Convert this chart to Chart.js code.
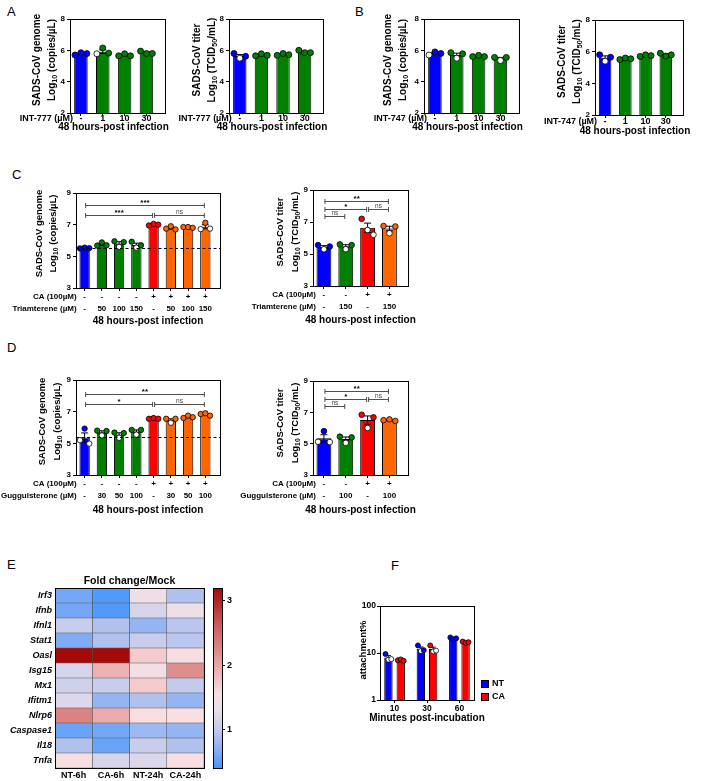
<!DOCTYPE html>
<html><head><meta charset="utf-8">
<script src="https://cdn.jsdelivr.net/npm/chart.js@4.4.1/dist/chart.umd.min.js"></script>
<style>
html,body{margin:0;padding:0;background:#fff}
body{width:701px;height:781px;position:relative;overflow:hidden;font-family:"Liberation Sans",Arial,sans-serif}
canvas{position:absolute}
.lt{position:absolute;font-size:13px;line-height:13px;color:#000}
</style></head><body>
<div class="lt" style="left:7px;top:5px">A</div>
<div class="lt" style="left:355px;top:5px">B</div>
<div class="lt" style="left:12px;top:168px">C</div>
<div class="lt" style="left:7px;top:341px">D</div>
<div class="lt" style="left:7px;top:558px">E</div>
<div class="lt" style="left:391px;top:559px">F</div>
<canvas id="a1"></canvas><canvas id="a2"></canvas><canvas id="b1"></canvas><canvas id="b2"></canvas>
<canvas id="c1"></canvas><canvas id="c2"></canvas><canvas id="d1"></canvas><canvas id="d2"></canvas>
<canvas id="hm"></canvas><canvas id="cb"></canvas><canvas id="fch"></canvas>
<script>
// ---------------- DATA ----------------
const catA = ['-', '1', '10', '30'];
const a1Genome = [[5.70,5.85,5.79],[5.78,6.15,5.82],[5.65,5.78,5.65],[5.95,5.80,5.80]];
const a2Titer  = [[5.80,5.50,5.62],[5.65,5.78,5.68],[5.68,5.80,5.72],[6.00,5.85,5.85]];
const b1Genome = [[5.70,5.90,5.80],[5.85,5.50,5.78],[5.60,5.68,5.60],[5.55,5.35,5.55]];
const b2Titer  = [[5.80,5.40,5.65],[5.50,5.60,5.55],[5.70,5.80,5.75],[5.90,5.72,5.80]];

const caRow8 = ['-','-','-','-','+','+','+','+'];
const triRow8 = ['-','50','100','150','-','50','100','150'];
const caRow4 = ['-','-','+','+'];
const triRow4 = ['-','150','-','150'];
const c1Genome = [[5.50,5.55,5.52],[5.68,5.88,5.70],[5.95,5.60,5.90],[5.92,5.55,5.70],
                  [6.95,7.05,7.00],[6.75,6.90,6.70],[6.85,6.85,6.80],[6.72,7.12,6.75]];
const c2Titer  = [[5.56,5.30,5.47],[5.60,5.30,5.56],[7.20,6.50,6.20],[6.75,6.30,6.72]];
const c1Dashed = 5.53;
const c1Brackets = [[0,7,8.26,'***'],[0,4,7.63,'***'],[4,7,7.63,'ns']];
const c2Brackets = [[0,3,8.31,'**'],[0,2,7.81,'*'],[2,3,7.81,'ns'],[0,1,7.37,'ns']];

const gugRow8 = ['-','30','50','100','-','30','50','100'];
const gugRow4 = ['-','100','-','100'];
const d1Genome = [[5.20,5.93,4.98],[5.80,5.50,5.78],[5.68,5.35,5.65],[5.85,5.55,5.85],
                  [6.55,6.60,6.55],[6.55,6.30,6.55],[6.60,6.75,6.65],[6.85,6.90,6.75]];
const d2Titer  = [[5.12,5.80,5.10],[5.45,5.05,5.40],[6.85,6.00,6.68],[6.50,6.55,6.45]];
const d1Dashed = 5.40;
const d1Brackets = [[0,7,8.09,'**'],[0,4,7.50,'*'],[4,7,7.50,'ns']];
const d2Brackets = [[0,3,8.36,'**'],[0,2,7.83,'*'],[2,3,7.83,'ns'],[0,1,7.39,'ns']];

const genes = ['Irf3','Ifnb','Ifnl1','Stat1','Oasl','Isg15','Mx1','Ifitm1','Nlrp6','Caspase1','Il18','Tnfa'];
const heatCols = ['NT-6h','CA-6h','NT-24h','CA-24h'];
const heatNT6  = [0.60,0.60,1.05,0.65,3.30,1.15,1.10,1.20,2.30,0.55,0.90,1.50];
const heatCA6  = [0.45,0.45,0.90,0.90,3.30,1.90,1.05,0.75,1.95,0.60,0.55,1.15];
const heatNT24 = [1.40,1.15,0.75,1.05,1.70,1.45,1.70,0.90,1.55,0.80,1.05,1.20];
const heatCA24 = [0.90,1.40,0.95,0.95,1.55,2.20,1.00,0.75,1.55,0.75,0.90,1.55];
const colorbarRange = [0.4, 3.2];
const colorbarTicks = [1, 2, 3];

const fMinutes = ['10','30','60'];
const fNT = [[9.5,7.2,7.4],[14.5,11.0,11.5],[21.5,19.5,20.5]];
const fCA = [[7.0,7.3,6.8],[14.5,10.8,11.2],[17.5,16.5,17.0]];

// ---------------- STYLE / HELPERS ----------------
const FONT = '"Liberation Sans", Arial, Helvetica, sans-serif';
Chart.defaults.font.family = FONT;
Chart.defaults.color = '#000';
Chart.defaults.animation = false;
Chart.defaults.responsive = false;
Chart.defaults.events = [];
Chart.defaults.plugins.legend.display = false;
Chart.defaults.plugins.tooltip.enabled = false;

const BLUE='#0000ff', GREEN='#008000', RED='#ff0000', ORANGE='#ff6600';

function mean(a){return a.reduce((s,v)=>s+v,0)/a.length;}
function sem(a){const m=mean(a);return Math.sqrt(a.reduce((s,v)=>s+(v-m)*(v-m),0)/(a.length-1))/Math.sqrt(a.length);}
function setupCanvas(id,left,top,w,h){const c=document.getElementById(id);c.width=w;c.height=h;c.style.left=left+'px';c.style.top=top+'px';return c;}

function richSegs(s){const out=[];const re=/_\{([^}]*)\}/g;let last=0,m;while((m=re.exec(s))){if(m.index>last)out.push({t:s.slice(last,m.index),sub:false});out.push({t:m[1],sub:true});last=re.lastIndex;}if(last<s.length)out.push({t:s.slice(last),sub:false});return out;}
function drawRich(ctx,s,x,y,size,align,style){
  const segs=richSegs(s);const st=style||'bold';
  const f=sub=>`${st} ${sub?size*0.72:size}px ${FONT}`;
  let w=0;segs.forEach(g=>{ctx.font=f(g.sub);g.w=ctx.measureText(g.t).width;w+=g.w;});
  let cx=align==='center'?x-w/2:align==='right'?x-w:x;
  ctx.textAlign='left';ctx.textBaseline='middle';
  segs.forEach(g=>{ctx.font=f(g.sub);ctx.fillText(g.t,cx,y+(g.sub?size*0.32:0));cx+=g.w;});
}
function drawRotTitle(ctx,lines,xs,yc,size){
  lines.forEach((ln,k)=>{ctx.save();ctx.translate(xs[k],yc);ctx.rotate(-Math.PI/2);ctx.fillStyle='#000';drawRich(ctx,ln,0,0,size,'center');ctx.restore();});
}
function frame(ctx,a){ctx.save();ctx.strokeStyle='#000';ctx.lineWidth=1;ctx.strokeRect(Math.round(a.left)+0.5,Math.round(a.top)+0.5,Math.round(a.right-a.left),Math.round(a.bottom-a.top));ctx.restore();}
function errBar(ctx,px,yc,ylo,yhi,cap){
  ctx.beginPath();ctx.moveTo(px,ylo);ctx.lineTo(px,yhi);
  ctx.moveTo(px-cap,yhi);ctx.lineTo(px+cap,yhi);
  ctx.moveTo(px-cap,ylo);ctx.lineTo(px+cap,ylo);ctx.stroke();
}

// ---------------- BAR PANELS A-D ----------------
function barPanel(o){
  const [L,T,R,B]=o.box; const ct=T-12, cr=R+8, cw=cr-o.cl, ch=o.cb-ct;
  const cv=setupCanvas(o.id,o.cl,ct,cw,ch);
  const n=o.reps.length, means=o.reps.map(mean), sems=o.reps.map(sem);
  const jit=[-0.27,0,0.27];
  const pts=[];o.reps.forEach((r,i)=>r.forEach((v,j)=>pts.push({x:i+jit[j],y:v,i})));
  const X=x=>x-o.cl, Y=y=>y-ct;
  new Chart(cv,{
    data:{datasets:[
      {type:'bar',data:means.map((m,i)=>({x:i,y:m})),backgroundColor:o.colors,borderColor:'#000',borderWidth:1,
       barPercentage:o.barPct,categoryPercentage:1,order:2},
      {type:'scatter',data:pts,pointRadius:o.dotR,pointHoverRadius:o.dotR,pointBorderColor:'#000',pointBorderWidth:0.8,
       pointBackgroundColor:c=>{const p=c.raw;if(!p)return '#fff';return p.y<means[p.i]-0.1?'#fff':o.colors[p.i];},order:1}
    ]},
    options:{
      layout:{padding:{top:12,right:8,left:0,bottom:0}},
      scales:{
        x:{type:'linear',min:-0.5,max:n-0.15,offset:false,
           grid:{offset:false,drawOnChartArea:false,tickLength:3,color:'#000',lineWidth:1},
           border:{color:'#000',width:1},ticks:{display:false},
           afterBuildTicks:s=>{s.ticks=o.reps.map((_,i)=>({value:i}));},
           afterFit:s=>{s.height=o.cb-B;}},
        y:{min:o.yMin,max:o.yMax,ticks:{stepSize:o.yStep,font:{size:8,weight:'bold'},padding:2,color:'#000'},
           grid:{drawOnChartArea:false,tickLength:3,color:'#000'},border:{color:'#000',width:1},
           afterFit:s=>{s.width=L-o.cl;}}
      }
    },
    plugins:[{id:'deco',
      afterDatasetDraw(chart,args){
        if(args.index!==0)return;
        const ctx=chart.ctx,xs=chart.scales.x,ys=chart.scales.y;
        ctx.save();ctx.strokeStyle='#000';ctx.lineWidth=1;
        means.forEach((m,i)=>{const px=xs.getPixelForValue(i);errBar(ctx,px,ys.getPixelForValue(m),ys.getPixelForValue(m-sems[i]),ys.getPixelForValue(m+sems[i]),3.5);});
        ctx.restore();
      },
      afterDatasetsDraw(chart){
        const ctx=chart.ctx,xs=chart.scales.x,ys=chart.scales.y,a=chart.chartArea;
        ctx.save();
        if(o.dashed!==undefined){
          ctx.setLineDash([3,2.5]);ctx.strokeStyle='#000';ctx.lineWidth=1;
          const py=Math.round(ys.getPixelForValue(o.dashed))+0.5;
          ctx.beginPath();ctx.moveTo(a.left,py);ctx.lineTo(a.right,py);ctx.stroke();ctx.setLineDash([]);
        }
        (o.brackets||[]).forEach(b=>{
          const x1=xs.getPixelForValue(b[0])+1,x2=xs.getPixelForValue(b[1])-1,py=Math.round(ys.getPixelForValue(b[2]))+0.5;
          ctx.strokeStyle='#222';ctx.lineWidth=0.8;ctx.beginPath();
          ctx.moveTo(x1,py);ctx.lineTo(x2,py);ctx.moveTo(x1,py-2.5);ctx.lineTo(x1,py+2.5);ctx.moveTo(x2,py-2.5);ctx.lineTo(x2,py+2.5);ctx.stroke();
          const ns=b[3]==='ns';
          ctx.fillStyle=ns?'#444':'#000';ctx.font=(ns?'':'bold ')+(ns?6.5:8)+'px '+FONT;
          ctx.textAlign='center';ctx.textBaseline='middle';
          ctx.fillText(b[3],(x1+x2)/2,py-(ns?3.5:3));
        });
        frame(ctx,a);
        ctx.restore();
      },
      afterDraw(chart){
        const ctx=chart.ctx,xs=chart.scales.x;
        ctx.save();ctx.fillStyle='#000';
        drawRotTitle(ctx,o.title,o.titleX.map(X),Y((T+B)/2+o.titleDy),o.titleSize);
        o.rows.forEach(r=>{
          ctx.font=`bold ${o.rowSize}px ${FONT}`;ctx.textBaseline='middle';
          ctx.textAlign='right';ctx.fillText(r.title,xs.getPixelForValue(0)-8,Y(r.y));
          ctx.textAlign='center';r.labels.forEach((t,i)=>ctx.fillText(t,xs.getPixelForValue(i),Y(r.y)));
        });
        ctx.font=`bold 10px ${FONT}`;ctx.textAlign='center';ctx.textBaseline='middle';
        ctx.fillText(o.xTitle,(chart.chartArea.left+chart.chartArea.right)/2+o.xTitleDx,Y(o.xTitleY));
        ctx.restore();
      }
    }]
  });
}

const genomeTitle=['SADS-CoV genome','Log_{10} (copies/µL)'];
const titerTitle=['SADS-CoV titer','Log_{10} (TCID_{50}/mL)'];
const xT='48 hours-post infection';
const colA=[BLUE,GREEN,GREEN,GREEN];

barPanel({id:'a1',box:[70,19,165,113],cl:0,cb:134,reps:a1Genome,colors:colA,yMin:2,yMax:8,yStep:2,
  title:genomeTitle,titleX:[37,52],titleDy:-6,titleSize:10,rows:[{title:'INT-777 (µM)',labels:catA,y:118.5}],rowSize:9,
  xTitle:xT,xTitleY:127,xTitleDx:-4,barPct:0.62,dotR:3});
barPanel({id:'a2',box:[229,19,323,113],cl:150,cb:134,reps:a2Titer,colors:colA,yMin:2,yMax:8,yStep:2,
  title:titerTitle,titleX:[197,212],titleDy:-6,titleSize:10,rows:[{title:'INT-777 (µM)',labels:catA,y:118.5}],rowSize:9,
  xTitle:xT,xTitleY:127.5,xTitleDx:-4,barPct:0.62,dotR:3});
barPanel({id:'b1',box:[424,19,519,113],cl:350,cb:134,reps:b1Genome,colors:colA,yMin:2,yMax:8,yStep:2,
  title:genomeTitle,titleX:[388,403],titleDy:-6,titleSize:10,rows:[{title:'INT-747 (µM)',labels:catA,y:118.5}],rowSize:9,
  xTitle:xT,xTitleY:127,xTitleDx:-4,barPct:0.62,dotR:3});
barPanel({id:'b2',box:[595,20,683,115],cl:525,cb:138,reps:b2Titer,colors:colA,yMin:2,yMax:8,yStep:2,
  title:titerTitle,titleX:[562,577],titleDy:-6,titleSize:10,rows:[{title:'INT-747 (µM)',labels:catA,y:122}],rowSize:9,
  xTitle:xT,xTitleY:131.5,xTitleDx:-4,barPct:0.62,dotR:3});

const colC8=[BLUE,GREEN,GREEN,GREEN,RED,ORANGE,ORANGE,ORANGE];
const colC4=[BLUE,GREEN,RED,ORANGE];
barPanel({id:'c1',box:[76,193,220,288],cl:0,cb:330,reps:c1Genome,colors:colC8,yMin:3,yMax:9,yStep:2,
  title:genomeTitle,titleX:[39,53],titleDy:-7,titleSize:9.5,
  rows:[{title:'CA (100µM)',labels:caRow8,y:297},{title:'Triamterene (µM)',labels:triRow8,y:309}],rowSize:8,
  xTitle:xT,xTitleY:321.5,xTitleDx:0,barPct:0.6,dotR:2.7,dashed:c1Dashed,brackets:c1Brackets});
barPanel({id:'c2',box:[313,190,408,286],cl:200,cb:330,reps:c2Titer,colors:colC4,yMin:3,yMax:9,yStep:2,
  title:titerTitle,titleX:[280,295],titleDy:-6,titleSize:9.5,
  rows:[{title:'CA (100µM)',labels:caRow4,y:295},{title:'Triamterene (µM)',labels:triRow4,y:307}],rowSize:8,
  xTitle:xT,xTitleY:320,xTitleDx:0,barPct:0.68,dotR:2.8,brackets:c2Brackets});
barPanel({id:'d1',box:[76,380,220,475],cl:0,cb:518,reps:d1Genome,colors:colC8,yMin:3,yMax:9,yStep:2,
  title:genomeTitle,titleX:[42,57],titleDy:-6,titleSize:9.5,
  rows:[{title:'CA (100µM)',labels:caRow8,y:484},{title:'Guggulsterone (µM)',labels:gugRow8,y:496}],rowSize:8,
  xTitle:xT,xTitleY:510,xTitleDx:0,barPct:0.6,dotR:2.7,dashed:d1Dashed,brackets:d1Brackets});
barPanel({id:'d2',box:[313,381,408,475],cl:200,cb:518,reps:d2Titer,colors:colC4,yMin:3,yMax:9,yStep:2,
  title:titerTitle,titleX:[280,295],titleDy:-5,titleSize:9.5,
  rows:[{title:'CA (100µM)',labels:caRow4,y:484},{title:'Guggulsterone (µM)',labels:gugRow4,y:496}],rowSize:8,
  xTitle:xT,xTitleY:510,xTitleDx:0,barPct:0.68,dotR:2.8,brackets:d2Brackets});

// ---------------- HEATMAP E ----------------
const cmapStops=[[0.4,[70,150,250]],[0.7,[138,176,243]],[1.0,[195,202,236]],[1.3,[232,222,234]],
                 [1.55,[248,222,224]],[2.0,[232,165,165]],[2.6,[205,95,95]],[3.2,[165,10,10]]];
function colorFor(v){
  if(v<=cmapStops[0][0])return `rgb(${cmapStops[0][1]})`;
  for(let k=1;k<cmapStops.length;k++){const [v1,c1]=cmapStops[k];const [v0,c0]=cmapStops[k-1];
    if(v<=v1){const t=(v-v0)/(v1-v0);return `rgb(${c0.map((c,j)=>Math.round(c+(c1[j]-c)*t)).join(',')})`;}}
  return `rgb(${cmapStops[cmapStops.length-1][1]})`;
}
(function(){
  const cl=0,ct=570,cv=setupCanvas('hm',cl,ct,212,211);
  const cols=[heatNT6,heatCA6,heatNT24,heatCA24];
  new Chart(cv,{type:'bar',
    data:{labels:genes,datasets:cols.map(c=>({data:c.map(()=>1),backgroundColor:c.map(colorFor),
      borderColor:'rgba(60,60,60,0.8)',borderWidth:0.6,borderSkipped:false,barPercentage:1,categoryPercentage:1}))},
    options:{indexAxis:'y',layout:{padding:{top:18,right:8,bottom:13,left:0}},
      scales:{x:{stacked:true,min:0,max:4,display:false},
              y:{stacked:true,grid:{display:false,drawTicks:false},border:{display:false},
                 ticks:{font:{size:9,weight:'bold',style:'italic'},color:'#000',padding:3},afterFit:s=>{s.width=55;}}}},
    plugins:[{id:'hmdeco',afterDraw(chart){
      const ctx=chart.ctx,a=chart.chartArea,xs=chart.scales.x;
      ctx.save();frame(ctx,a);ctx.fillStyle='#000';
      ctx.font=`bold 10.5px ${FONT}`;ctx.textAlign='center';ctx.textBaseline='middle';
      ctx.fillText('Fold change/Mock',(a.left+a.right)/2,581-ct);
      ctx.font=`bold 9px ${FONT}`;
      heatCols.forEach((t,k)=>ctx.fillText(t,xs.getPixelForValue(k+0.5),776-ct));
      ctx.restore();}}]
  });
})();
(function(){
  const cl=205,ct=578,cv=setupCanvas('cb',cl,ct,40,200);
  new Chart(cv,{type:'bar',
    data:{labels:[''],datasets:[{data:[colorbarRange],barPercentage:1,categoryPercentage:1,borderWidth:0,
      backgroundColor:c=>{const ch=c.chart,y=ch.scales.y;if(!ch.chartArea||!y)return '#fff';
        const g=ch.ctx.createLinearGradient(0,y.getPixelForValue(colorbarRange[0]),0,y.getPixelForValue(colorbarRange[1]));
        cmapStops.forEach(s=>g.addColorStop((s[0]-colorbarRange[0])/(colorbarRange[1]-colorbarRange[0]),`rgb(${s[1]})`));return g;}}]},
    options:{layout:{padding:{top:10,right:0,bottom:10,left:8}},
      scales:{x:{display:false},
        y:{position:'right',min:colorbarRange[0],max:colorbarRange[1],
           afterBuildTicks:s=>{s.ticks=colorbarTicks.map(v=>({value:v}));},
           ticks:{font:{size:9,weight:'bold'},color:'#000',padding:2},
           grid:{drawOnChartArea:false,tickLength:3,color:'#000'},border:{display:false},afterFit:s=>{s.width=23;}}}},
    plugins:[{id:'cbf',afterDraw(chart){frame(chart.ctx,chart.chartArea);}}]
  });
})();

// ---------------- F ----------------
(function(){
  const L=380,T=606,R=474,B=700,cl=335,ct=594,cw=175,cb=730;
  const cv=setupCanvas('fch',cl,ct,cw,cb-ct);
  const X=x=>x-cl,Y=y=>y-ct;
  const off=0.19,jit=[-0.09,0,0.09];
  const groups=[{reps:fNT,col:BLUE,dx:-off},{reps:fCA,col:RED,dx:off}];
  const bars=groups.map(g=>({type:'bar',data:g.reps.map((r,i)=>({x:i+g.dx,y:mean(r)})),backgroundColor:g.col,borderColor:'#000',
    borderWidth:1,grouped:false,barPercentage:0.68,categoryPercentage:1,order:3}));
  const dots=groups.map(g=>{const m=g.reps.map(mean);return {type:'scatter',data:g.reps.flatMap((r,i)=>r.map((v,j)=>({x:i+g.dx+jit[j],y:v,i}))),
    pointRadius:2.5,pointBorderColor:'#000',pointBorderWidth:0.8,
    pointBackgroundColor:c=>{const p=c.raw;if(!p)return '#fff';return p.y<m[p.i]*0.93?'#fff':g.col;},order:1};});
  new Chart(cv,{data:{datasets:[...bars,...dots]},
    options:{layout:{padding:{top:T-ct,right:cl+cw-R,left:0,bottom:0}},
      scales:{
        x:{type:'linear',min:-0.45,max:2.45,offset:false,afterBuildTicks:s=>{s.ticks=fMinutes.map((_,i)=>({value:i}));},
           ticks:{callback:v=>fMinutes[v],font:{size:8.5,weight:'bold'},color:'#000',padding:1,maxRotation:0},
           grid:{offset:false,drawOnChartArea:false,tickLength:3,color:'#000'},border:{color:'#000'},afterFit:s=>{s.height=cb-B;}},
        y:{type:'logarithmic',min:1,max:100,afterBuildTicks:s=>{s.ticks=[1,10,100].map(v=>({value:v}));},
           ticks:{callback:v=>String(v),font:{size:8.5,weight:'bold'},color:'#000',padding:1},
           grid:{drawOnChartArea:false,tickLength:3,color:'#000'},border:{color:'#000'},afterFit:s=>{s.width=L-cl;}}
      }},
    plugins:[{id:'fdeco',
      afterDatasetDraw(chart,args){
        if(args.index>1)return;const g=groups[args.index];
        const ctx=chart.ctx,xs=chart.scales.x,ys=chart.scales.y;
        ctx.save();ctx.strokeStyle='#000';ctx.lineWidth=1;
        g.reps.forEach((r,i)=>{const m=mean(r),s=sem(r);errBar(ctx,xs.getPixelForValue(i+g.dx),ys.getPixelForValue(m),ys.getPixelForValue(m-s),ys.getPixelForValue(m+s),2.5);});
        ctx.restore();
      },
      afterDraw(chart){
        const ctx=chart.ctx,a=chart.chartArea;
        ctx.save();frame(ctx,a);ctx.fillStyle='#000';
        drawRotTitle(ctx,['attachment%'],[X(363)],Y((T+B)/2-3),9.5);
        ctx.font=`bold 10px ${FONT}`;ctx.textAlign='center';ctx.textBaseline='middle';
        ctx.fillText('Minutes post-incubation',(a.left+a.right)/2,Y(718));
        [['NT',BLUE,684],['CA',RED,697]].forEach(([t,c,y])=>{
          ctx.fillStyle=c;ctx.fillRect(X(481)+0.5,Y(y)-3.5,7,7);ctx.strokeStyle='#000';ctx.lineWidth=1;ctx.strokeRect(X(481)+0.5,Y(y)-3.5,7,7);
          ctx.fillStyle='#000';ctx.font=`bold 9px ${FONT}`;ctx.textAlign='left';ctx.fillText(t,X(492),Y(y));
        });
        ctx.restore();
      }}]
  });
})();
</script>
</body></html>
